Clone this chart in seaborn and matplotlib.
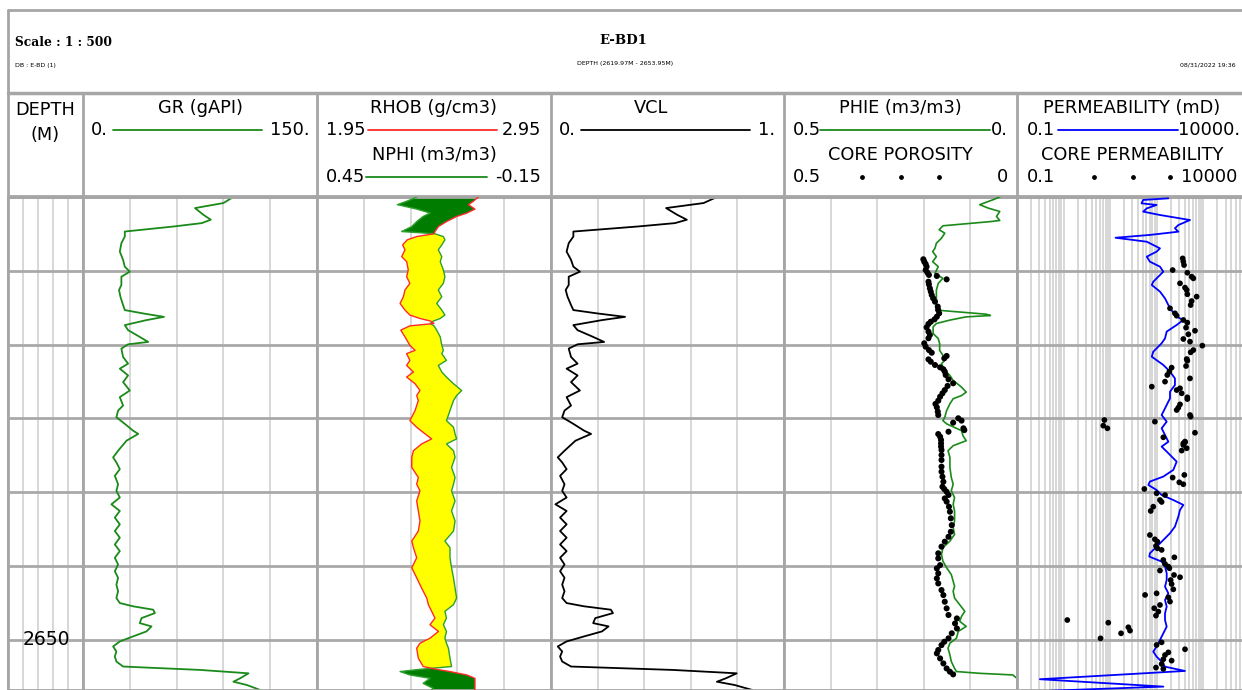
import matplotlib
matplotlib.use("Agg")
import matplotlib.pyplot as plt
import seaborn as sns
import pandas as pd
from matplotlib.ticker import LogLocator, NullFormatter, FixedLocator

# ---------------- data ----------------
depth_gr = [2620.00, 2620.41, 2620.75, 2621.20, 2621.54, 2621.77, 2622.00, 2622.34, 2622.68, 2623.13,
            2623.70, 2624.26, 2624.72, 2625.06, 2625.40, 2625.96, 2626.30, 2626.76, 2627.32, 2627.66,
            2627.89, 2628.12, 2628.34, 2628.68, 2629.02, 2629.48, 2629.82, 2629.98, 2630.27, 2630.84,
            2631.29, 2631.63, 2632.09, 2632.54, 2633.11, 2633.56, 2634.13, 2634.47, 2634.92, 2635.37,
            2635.83, 2636.05, 2636.51, 2637.19, 2637.64, 2637.98, 2638.44, 2638.89, 2639.46, 2639.91,
            2640.36, 2640.82, 2641.27, 2641.72, 2642.18, 2642.63, 2643.08, 2643.54, 2643.99, 2644.44,
            2644.90, 2645.35, 2645.80, 2646.26, 2646.71, 2647.17, 2647.51, 2647.73, 2647.96, 2648.19,
            2648.53, 2648.87, 2649.09, 2649.43, 2649.77, 2650.11, 2650.45, 2650.79, 2651.13, 2651.47,
            2651.81, 2652.04, 2652.27, 2652.61, 2652.84, 2653.06, 2653.40]
gr = [96.4, 90.0, 71.8, 77.1, 81.9, 76.1, 57.9, 26.8, 26.8, 24.6,
      23.6, 25.7, 26.8, 30.0, 24.6, 24.6, 23.1, 24.0, 25.7, 26.8,
      38.6, 51.9, 40.7, 26.8, 28.9, 36.4, 41.8, 28.9, 24.6, 25.7,
      28.9, 23.6, 28.9, 25.7, 30.0, 23.6, 25.7, 22.5, 21.4, 26.8,
      32.1, 35.4, 27.9, 22.5, 19.3, 21.4, 23.6, 20.4, 22.5, 21.4,
      23.6, 18.2, 23.6, 20.4, 23.6, 20.4, 23.6, 20.4, 23.6, 20.4,
      22.5, 20.4, 22.5, 21.4, 22.5, 21.4, 23.6, 32.1, 45.0, 46.1,
      37.5, 36.4, 43.9, 40.7, 32.1, 23.6, 19.3, 21.4, 20.4, 21.4,
      25.7, 75.0, 106.1, 100.7, 96.4, 105.0, 113.6]
vcl = [0.712, 0.655, 0.494, 0.541, 0.583, 0.532, 0.371, 0.096, 0.096, 0.076,
       0.067, 0.086, 0.096, 0.124, 0.076, 0.076, 0.063, 0.071, 0.086, 0.096,
       0.200, 0.318, 0.219, 0.096, 0.114, 0.181, 0.228, 0.114, 0.076, 0.086,
       0.114, 0.067, 0.114, 0.086, 0.124, 0.067, 0.086, 0.058, 0.048, 0.096,
       0.142, 0.172, 0.105, 0.058, 0.029, 0.048, 0.067, 0.039, 0.058, 0.048,
       0.067, 0.019, 0.067, 0.039, 0.067, 0.039, 0.067, 0.039, 0.067, 0.039,
       0.058, 0.039, 0.058, 0.048, 0.058, 0.048, 0.067, 0.142, 0.257, 0.266,
       0.190, 0.181, 0.247, 0.219, 0.142, 0.067, 0.029, 0.048, 0.039, 0.048,
       0.086, 0.522, 0.797, 0.750, 0.712, 0.788, 0.864]

depth_dn = [2620.00, 2620.29, 2620.52, 2620.82, 2621.09, 2621.32, 2621.66, 2622.00, 2622.34, 2622.49,
            2622.68, 2622.90, 2623.24, 2623.58, 2624.04, 2624.38, 2624.94, 2625.40, 2625.85, 2626.30,
            2626.76, 2627.21, 2627.66, 2628.00, 2628.23, 2628.41, 2628.57, 2628.73, 2629.02, 2629.48,
            2630.05, 2630.39, 2630.61, 2631.07, 2631.41, 2631.86, 2632.20, 2632.65, 2633.11, 2633.45,
            2633.79, 2634.47, 2635.15, 2635.60, 2636.05, 2636.39, 2636.73, 2637.19, 2637.64, 2638.32,
            2639.00, 2639.46, 2639.91, 2640.59, 2641.27, 2641.95, 2642.63, 2643.31, 2643.76, 2644.44,
            2645.12, 2645.80, 2646.49, 2647.17, 2647.62, 2648.07, 2648.53, 2648.98, 2649.43, 2649.89,
            2650.23, 2650.57, 2651.25, 2651.81, 2652.00, 2652.15, 2652.38, 2652.61, 2652.95, 2653.29,
            2653.51]
nphi = [0.194, 0.220, 0.244, 0.194, 0.160, 0.178, 0.194, 0.207, 0.233, 0.148,
        0.126, 0.122, 0.130, 0.139, 0.130, 0.134, 0.126, 0.122, 0.126, 0.139,
        0.130, 0.143, 0.130, 0.122, 0.134, 0.152, 0.160, 0.150, 0.143, 0.134,
        0.130, 0.126, 0.130, 0.118, 0.139, 0.130, 0.118, 0.100, 0.079, 0.092,
        0.100, 0.109, 0.118, 0.100, 0.096, 0.092, 0.118, 0.100, 0.096, 0.105,
        0.096, 0.100, 0.105, 0.096, 0.105, 0.096, 0.100, 0.122, 0.109, 0.109,
        0.105, 0.100, 0.096, 0.092, 0.100, 0.122, 0.118, 0.126, 0.118, 0.122,
        0.118, 0.113, 0.109, 0.105, 0.186, 0.237, 0.212, 0.160, 0.178, 0.152,
        0.160]
rhob = [2.639, 2.618, 2.597, 2.625, 2.590, 2.547, 2.504, 2.469, 2.454, 2.450,
        2.376, 2.336, 2.316, 2.326, 2.312, 2.333, 2.340, 2.333, 2.347, 2.326,
        2.319, 2.305, 2.326, 2.347, 2.390, 2.436, 2.450, 2.347, 2.308, 2.326,
        2.347, 2.369, 2.333, 2.347, 2.333, 2.362, 2.333, 2.369, 2.390, 2.376,
        2.383, 2.369, 2.347, 2.376, 2.412, 2.440, 2.397, 2.362, 2.355, 2.355,
        2.383, 2.376, 2.390, 2.376, 2.383, 2.390, 2.383, 2.355, 2.362, 2.376,
        2.355, 2.376, 2.397, 2.419, 2.426, 2.440, 2.454, 2.433, 2.469, 2.433,
        2.390, 2.376, 2.383, 2.404, 2.461, 2.518, 2.590, 2.625, 2.625, 2.625,
        2.625]

depth_phie = [2620.00, 2620.18, 2620.52, 2620.75, 2620.98, 2621.32, 2621.59, 2621.66, 2621.77, 2621.95,
              2622.22, 2622.45, 2622.79, 2623.13, 2623.47, 2623.70, 2624.04, 2624.38, 2624.72, 2625.17,
              2625.51, 2625.85, 2626.30, 2626.76, 2627.21, 2627.66, 2627.94, 2628.03, 2628.12, 2628.34,
              2628.57, 2628.80, 2629.25, 2629.59, 2629.93, 2630.39, 2630.73, 2631.07, 2631.29, 2631.75,
              2632.09, 2632.43, 2632.88, 2633.22, 2633.45, 2633.67, 2634.01, 2634.47, 2634.92, 2635.15,
              2635.37, 2635.83, 2636.17, 2636.51, 2636.85, 2637.19, 2637.64, 2638.32, 2639.00, 2639.46,
              2639.91, 2640.36, 2640.82, 2641.27, 2641.95, 2642.40, 2642.86, 2643.31, 2643.76, 2644.22,
              2644.67, 2645.12, 2645.58, 2646.03, 2646.37, 2646.71, 2647.17, 2647.62, 2648.07, 2648.41,
              2648.75, 2649.09, 2649.43, 2649.89, 2650.23, 2650.57, 2651.02, 2651.47, 2651.93, 2652.15,
              2652.27, 2652.38, 2652.61]
phie = [0.037, 0.051, 0.080, 0.062, 0.037, 0.044, 0.037, 0.055, 0.094, 0.159,
        0.167, 0.155, 0.162, 0.173, 0.176, 0.181, 0.173, 0.181, 0.169, 0.176,
        0.159, 0.169, 0.173, 0.173, 0.173, 0.174, 0.066, 0.057, 0.109, 0.144,
        0.173, 0.180, 0.180, 0.169, 0.166, 0.166, 0.159, 0.155, 0.162, 0.155,
        0.144, 0.137, 0.119, 0.109, 0.119, 0.137, 0.144, 0.151, 0.155, 0.159,
        0.151, 0.119, 0.116, 0.109, 0.137, 0.148, 0.144, 0.144, 0.141, 0.137,
        0.141, 0.134, 0.137, 0.134, 0.134, 0.137, 0.134, 0.144, 0.159, 0.162,
        0.159, 0.151, 0.141, 0.137, 0.134, 0.137, 0.134, 0.123, 0.112, 0.119,
        0.123, 0.109, 0.126, 0.130, 0.144, 0.148, 0.144, 0.141, 0.134, 0.130,
        0.080, 0.009, 0.000]

core_depth_phi = [2624.22, 2624.38, 2624.54, 2624.72, 2624.95, 2625.13, 2625.28, 2625.35, 2625.58, 2625.74,
                  2625.92, 2626.19, 2626.41, 2626.64, 2626.86, 2627.09, 2627.43, 2627.66, 2627.88, 2628.11,
                  2628.29, 2628.45, 2628.60, 2628.83, 2629.12, 2629.35, 2629.57, 2629.91, 2630.14, 2630.37,
                  2630.55, 2630.77, 2630.93, 2631.00, 2631.16, 2631.38, 2631.54, 2631.67, 2631.83, 2632.06,
                  2632.35, 2632.62, 2632.80, 2633.08, 2633.30, 2633.53, 2633.80, 2634.02, 2634.25, 2634.54,
                  2634.77, 2634.99, 2635.15, 2635.29, 2635.67, 2635.79, 2635.90, 2636.06, 2636.24, 2636.46,
                  2636.69, 2636.91, 2637.14, 2637.48, 2637.82, 2638.27, 2638.61, 2638.95, 2639.29, 2639.63,
                  2639.79, 2639.97, 2640.19, 2640.42, 2640.64, 2640.98, 2641.32, 2641.77, 2642.23, 2642.68,
                  2643.02, 2643.35, 2643.69, 2644.14, 2644.48, 2644.94, 2645.16, 2645.50, 2645.84, 2646.18,
                  2646.63, 2646.97, 2647.42, 2647.87, 2648.32, 2648.55, 2648.89, 2649.23, 2649.56, 2649.90,
                  2650.13, 2650.36, 2650.69, 2650.92, 2651.26, 2651.60, 2651.94, 2652.16, 2652.34]
core_phi = [0.201, 0.199, 0.196, 0.194, 0.196, 0.192, 0.189, 0.172, 0.151, 0.190,
            0.189, 0.187, 0.185, 0.183, 0.180, 0.176, 0.170, 0.169, 0.167, 0.172,
            0.177, 0.185, 0.190, 0.194, 0.190, 0.187, 0.190, 0.199, 0.196, 0.189,
            0.183, 0.151, 0.156, 0.190, 0.185, 0.176, 0.165, 0.158, 0.155, 0.153,
            0.147, 0.137, 0.149, 0.155, 0.160, 0.165, 0.169, 0.175, 0.172, 0.170,
            0.169, 0.126, 0.119, 0.137, 0.115, 0.113, 0.147, 0.169, 0.165, 0.163,
            0.163, 0.163, 0.162, 0.162, 0.162, 0.162, 0.162, 0.160, 0.158, 0.160,
            0.156, 0.151, 0.147, 0.155, 0.151, 0.146, 0.144, 0.142, 0.140, 0.142,
            0.147, 0.155, 0.162, 0.169, 0.169, 0.165, 0.172, 0.169, 0.172, 0.169,
            0.162, 0.158, 0.155, 0.151, 0.147, 0.129, 0.133, 0.129, 0.140, 0.147,
            0.156, 0.162, 0.169, 0.172, 0.165, 0.158, 0.151, 0.144, 0.137]

depth_perm = [2620.09, 2620.20, 2620.43, 2620.54, 2620.77, 2620.99, 2621.22, 2621.56, 2621.90, 2622.12,
              2622.35, 2622.57, 2622.76, 2623.03, 2623.48, 2623.70, 2624.04, 2624.38, 2624.72, 2625.06,
              2625.74, 2625.96, 2626.41, 2626.87, 2627.54, 2628.11, 2628.33, 2628.67, 2629.12, 2629.58,
              2629.91, 2630.48, 2630.82, 2631.38, 2631.83, 2632.29, 2632.74, 2633.19, 2633.64, 2634.32,
              2634.77, 2635.22, 2635.67, 2636.12, 2636.58, 2636.91, 2637.36, 2637.93, 2638.49, 2638.94,
              2639.28, 2639.51, 2639.85, 2640.19, 2640.53, 2640.86, 2641.20, 2641.65, 2642.33, 2642.78,
              2643.24, 2643.69, 2644.14, 2644.36, 2644.70, 2645.04, 2645.49, 2645.95, 2646.40, 2646.85,
              2647.30, 2647.75, 2648.20, 2648.65, 2649.11, 2649.56, 2650.01, 2650.46, 2650.80, 2651.14,
              2651.48, 2651.82, 2652.11, 2652.67, 2653.17, 2653.45]
perm = [177, 51, 47, 99, 61, 51, 117, 515, 290, 245,
        290, 71, 13, 61, 117, 99, 61, 71, 117, 138,
        84, 78, 117, 150, 192, 267, 371, 267, 163, 150,
        127, 84, 78, 138, 192, 245, 245, 192, 192, 150,
        127, 163, 127, 150, 177, 127, 177, 267, 226, 138,
        71, 66, 99, 127, 226, 371, 315, 290, 245, 192,
        138, 99, 71, 69, 127, 150, 163, 163, 150, 177,
        150, 163, 150, 150, 163, 138, 117, 99, 84, 99,
        127, 150, 403, 0.31, 138, 0.5]

core_depth_k = [2624.16, 2624.38, 2624.61, 2624.95, 2625.13, 2625.40, 2625.51, 2625.85, 2626.14, 2626.30,
                2626.59, 2626.75, 2627.05, 2627.32, 2627.54, 2627.88, 2628.04, 2628.33, 2628.51, 2628.85,
                2629.06, 2629.30, 2629.62, 2629.80, 2630.07, 2630.37, 2630.52, 2630.98, 2631.09, 2631.45,
                2631.56, 2631.83, 2632.06, 2632.51, 2632.85, 2632.29, 2632.96, 2633.08, 2633.30, 2633.57,
                2633.69, 2634.05, 2634.27, 2634.43, 2634.77, 2634.88, 2635.22, 2635.11, 2635.49, 2635.67,
                2635.97, 2636.28, 2636.62, 2636.69, 2636.57, 2636.80, 2637.02, 2637.18, 2638.83, 2639.01,
                2639.33, 2639.46, 2639.78, 2640.07, 2640.19, 2640.53, 2640.66, 2640.98, 2641.27, 2642.90,
                2643.19, 2643.35, 2643.64, 2643.80, 2643.91, 2644.41, 2644.59, 2644.86, 2645.04, 2645.15,
                2645.31, 2645.61, 2645.76, 2645.95, 2646.22, 2646.58, 2646.85, 2646.96, 2647.12, 2647.41,
                2647.64, 2647.86, 2648.09, 2648.36, 2648.66, 2648.84, 2649.15, 2649.38, 2649.56, 2649.90,
                2650.35, 2650.17, 2650.64, 2650.85, 2651.03, 2651.32, 2651.41, 2651.64, 2651.88, 2651.97]
core_k = [359, 371, 384, 219, 452, 560, 608, 315, 403, 438,
          452, 716, 560, 533, 192, 245, 267, 371, 452, 424,
          660, 475, 371, 516, 948, 608, 533, 438, 452, 424,
          208, 186, 168, 150, 78, 516, 315, 267, 342, 452,
          452, 315, 290, 267, 516, 533, 91, 7.5, 7.1, 8.7,
          660, 138, 403, 371, 403, 371, 438, 342, 390, 219,
          304, 371, 54, 99, 150, 117, 127, 84, 74, 71,
          91, 103, 96, 103, 127, 238, 138, 150, 177, 186,
          117, 234, 315, 198, 208, 226, 99, 56, 177, 192,
          117, 88, 108, 96, 1.2, 9.1, 24.5, 26.6, 17.1, 6.2,
          99, 127, 403, 177, 150, 138, 208, 127, 96, 138]

depth_marks = [2620, 2625, 2630, 2635, 2640, 2645, 2650]
depth_label = "2650"

# ---------------- styling ----------------
sns.set_theme(style="white")
plt.rcParams['font.family'] = ['DejaVu Sans']
plt.rcParams['text.color'] = 'black'

W, H = 1242, 690
fig = plt.figure(figsize=(W / 100, H / 100), dpi=100)

FRAME = '#a6a6a6'
MINOR = '#cdcdcd'
MAJOR = '#a9a9a9'
GREEN = '#1a8a1a'
RED = '#ff2a2a'
BLUE = '#0000ff'
TOP, BOT = 2620.0, 2653.40
FS = 12.8


def px_axes(x0, y0, x1, y1):
    return fig.add_axes([x0 / W, 1 - y1 / H, (x1 - x0) / W, (y1 - y0) / H])


bg = fig.add_axes([0, 0, 1, 1])
bg.set_xlim(0, W)
bg.set_ylim(H, 0)
bg.axis('off')

# frame lines
bg.plot([8, W], [10, 10], color=FRAME, lw=2)
bg.plot([8, 8], [10, H], color=FRAME, lw=2)
bg.plot([8, W], [93, 93], color=FRAME, lw=2.5)
bg.plot([8, W], [196, 196], color=FRAME, lw=2)
for xs in [83, 317, 551, 784, 1017]:
    bg.plot([xs, xs], [93, 196], color=FRAME, lw=2)

# page header
bg.text(15, 42, "Scale : 1 : 500", fontsize=8.8, fontweight='bold', family='DejaVu Serif', va='center')
bg.text(15, 65, "DB : E-BD (1)", fontsize=4.5, va='center')
bg.text(623, 41, "E-BD1", fontsize=9.5, fontweight='bold', family='DejaVu Serif', va='center', ha='center')
bg.text(625, 64, "DEPTH (2619.97M - 2653.95M)", fontsize=4.5, va='center', ha='center')
bg.text(1236, 65, "08/31/2022 19:36", fontsize=4.5, va='center', ha='right')


# track headers
def hdr_title(xc, y, s):
    bg.text(xc, y, s, fontsize=FS, ha='center', va='center')


def hdr_row(xl, xr, y, lo, hi, color=None, line=None, dots=None):
    bg.text(xl, y, lo, fontsize=FS, ha='left', va='center')
    bg.text(xr, y, hi, fontsize=FS, ha='right', va='center')
    if line is not None:
        bg.plot(line, [y, y], color=color, lw=1.3)
    if dots is not None:
        bg.scatter(dots, [y] * len(dots), s=6, color='black', zorder=3)


hdr_title(45, 110, "DEPTH")
hdr_title(45, 135, "(M)")

hdr_title(200, 108, "GR (gAPI)")
hdr_row(91, 310, 130, "0.", "150.", GREEN, [113, 262])

hdr_title(434, 108, "RHOB (g/cm3)")
hdr_row(326, 541, 130, "1.95", "2.95", RED, [368, 497])
hdr_title(434, 155, "NPHI (m3/m3)")
hdr_row(326, 541, 177, "0.45", "-0.15", GREEN, [366, 487])

hdr_title(651, 108, "VCL")
hdr_row(559, 775, 130, "0.", "1.", 'black', [581, 750])

hdr_title(900, 108, "PHIE (m3/m3)")
hdr_row(793, 1008, 130, "0.5", "0.", GREEN, [820, 990])
hdr_title(900, 155, "CORE POROSITY")
hdr_row(793, 1008, 177, "0.5", "0", dots=[862, 901, 939])

hdr_title(1132, 108, "PERMEABILITY (mD)")
hdr_row(1027, 1240, 130, "0.1", "10000.", BLUE, [1058, 1178])
hdr_title(1132, 155, "CORE PERMEABILITY")
hdr_row(1027, 1237, 177, "0.1", "10000", dots=[1094, 1133, 1170])


# data tracks
def setup(ax, xlim, xticks=None, log=False):
    if log:
        ax.set_xscale('log')
        ax.xaxis.set_major_locator(LogLocator(base=10, numticks=12))
        ax.xaxis.set_minor_locator(LogLocator(base=10, subs=range(2, 10), numticks=12))
        ax.xaxis.set_minor_formatter(NullFormatter())
    ax.set_xlim(*xlim)
    ax.set_ylim(BOT, TOP)
    if xticks is not None:
        ax.xaxis.set_major_locator(FixedLocator(xticks))
    ax.yaxis.set_major_locator(FixedLocator(depth_marks))
    ax.grid(True, which='both', axis='x', color=MINOR, lw=1.1)
    ax.grid(True, which='major', axis='y', color=MAJOR, lw=2)
    ax.tick_params(which='both', length=0, labelbottom=False, labelleft=False)
    ax.set_xlabel('')
    ax.set_ylabel('')
    for sp in ax.spines.values():
        sp.set_color(FRAME)
        sp.set_linewidth(2)
    ax.set_facecolor('white')
    ax.set_axisbelow(True)


Y0, Y1 = 197, 690

# depth track
ax_d = px_axes(8, Y0, 83, Y1)
setup(ax_d, (0, 1), [0.2, 0.4, 0.6, 0.8])
ax_d.text(0.19, 2650, depth_label, fontsize=13.5, va='center', ha='left',
          transform=ax_d.get_yaxis_transform())

# GR
ax_gr = px_axes(83, Y0, 317, Y1)
df_gr = pd.DataFrame({'depth': depth_gr, 'GR': gr, 'VCL': vcl})
sns.lineplot(data=df_gr, x='GR', y='depth', orient='y', sort=False, estimator=None,
             color=GREEN, lw=1.3, ax=ax_gr)
setup(ax_gr, (0, 150), [30, 60, 90, 120])

# RHOB / NPHI
ax_dn = px_axes(317, Y0, 551, Y1)
df_dn = pd.DataFrame({'depth': depth_dn, 'RHOB': rhob, 'NPHI': nphi})
df_dn['NPHI_on_RHOB'] = 1.95 + (0.45 - df_dn['NPHI']) / 0.6
ax_dn.fill_betweenx(df_dn['depth'], df_dn['RHOB'], df_dn['NPHI_on_RHOB'],
                    where=df_dn['RHOB'] <= df_dn['NPHI_on_RHOB'], interpolate=True,
                    color='#ffff00', lw=0, zorder=2)
ax_dn.fill_betweenx(df_dn['depth'], df_dn['RHOB'], df_dn['NPHI_on_RHOB'],
                    where=df_dn['RHOB'] > df_dn['NPHI_on_RHOB'], interpolate=True,
                    color='#007d00', lw=0, zorder=2)
sns.lineplot(data=df_dn, x='NPHI_on_RHOB', y='depth', orient='y', sort=False, estimator=None,
             color='#2ca02c', lw=1.0, ax=ax_dn, zorder=3)
sns.lineplot(data=df_dn, x='RHOB', y='depth', orient='y', sort=False, estimator=None,
             color=RED, lw=1.0, ax=ax_dn, zorder=3)
setup(ax_dn, (1.95, 2.95), [2.15, 2.35, 2.55, 2.75])

# VCL
ax_v = px_axes(551, Y0, 784, Y1)
sns.lineplot(data=df_gr, x='VCL', y='depth', orient='y', sort=False, estimator=None,
             color='black', lw=1.3, ax=ax_v)
setup(ax_v, (0, 1), [0.2, 0.4, 0.6, 0.8])

# PHIE + core porosity
ax_p = px_axes(784, Y0, 1017, Y1)
df_p = pd.DataFrame({'depth': depth_phie, 'PHIE': phie})
df_cp = pd.DataFrame({'depth': core_depth_phi, 'CPOR': core_phi})
sns.lineplot(data=df_p, x='PHIE', y='depth', orient='y', sort=False, estimator=None,
             color=GREEN, lw=1.2, ax=ax_p, zorder=3)
sns.scatterplot(data=df_cp, x='CPOR', y='depth', color='black', s=19, edgecolor='none',
                ax=ax_p, zorder=4)
setup(ax_p, (0.5, 0.0), [0.1, 0.2, 0.3, 0.4])

# Permeability + core permeability
ax_k = px_axes(1017, Y0, 1250, Y1)
df_k = pd.DataFrame({'depth': depth_perm, 'PERM': perm})
df_ck = pd.DataFrame({'depth': core_depth_k, 'CPERM': core_k})
sns.lineplot(data=df_k, x='PERM', y='depth', orient='y', sort=False, estimator=None,
             color=BLUE, lw=1.3, ax=ax_k, zorder=3)
sns.scatterplot(data=df_ck, x='CPERM', y='depth', color='black', s=17, edgecolor='none',
                ax=ax_k, zorder=4)
setup(ax_k, (0.1, 10000), log=True)

fig.savefig("out.png", dpi=100)
